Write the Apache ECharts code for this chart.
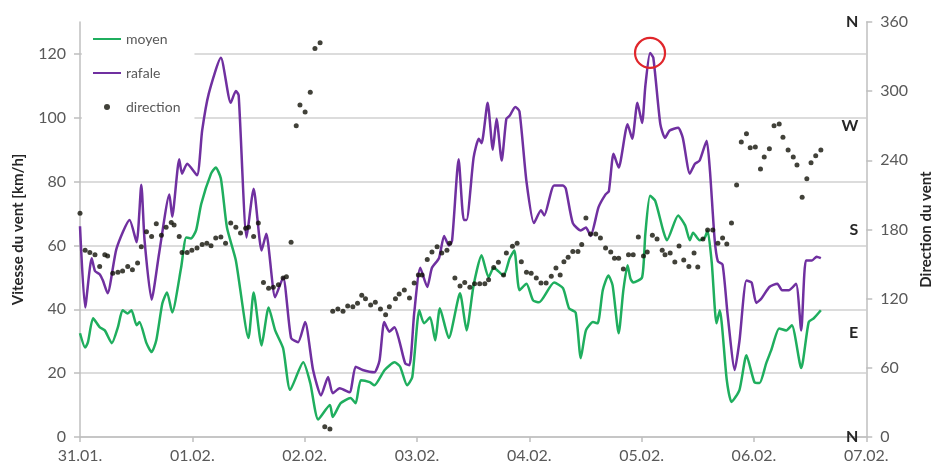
<!DOCTYPE html>
<html>
<head>
<meta charset="utf-8">
<script src="https://cdn.jsdelivr.net/npm/echarts@6/dist/echarts.min.js"></script>
<style>
  html, body { margin: 0; padding: 0; background: #ffffff; }
  #chart { width: 942px; height: 471px; }
</style>
</head>
<body>
<div id="chart"></div>
<script>
// Day labels on the time axis (hours from 31.01. 00:00, one label every 24 h)
const dayLabels = ['31.01.', '01.02.', '02.02.', '03.02.', '04.02.', '05.02.', '06.02.', '07.02.'];
// Speed axis ticks [km/h]
const speedTicks = [0, 20, 40, 60, 80, 100, 120];
// Compass points on the direction axis [deg]
const compassPoints = { 0: 'N', 90: 'E', 180: 'S', 270: 'W', 360: 'N' };

// Mean wind speed [hour, km/h]
const moyen = [
  [0, 32.5], [1.1, 28], [1.7, 29.7], [2.8, 37.2], [4.2, 34.4], [5.3, 33.4], [6.8, 29.4], [8.1, 34.4],
  [9.1, 39.7], [10.2, 38.7], [11, 39.7], [12.1, 35], [12.7, 36], [14.2, 29.4], [15.3, 26.6], [16.3, 30.3],
  [17.6, 41.9], [18.6, 45.3], [19.7, 39], [21.6, 53], [22.7, 62.5], [23.7, 62.2], [24.8, 64.7], [25.9, 73],
  [28, 82.5], [29, 84.4], [30.1, 81], [31.4, 65.6], [33.3, 55.3], [36, 31], [37.1, 45.3], [38.8, 28.7],
  [40.3, 40.6], [41.7, 33.4], [43.4, 27.8], [44.9, 14.7], [47.7, 23.4], [49.2, 16.9], [50.9, 5.5], [53.4, 10],
  [54, 6.3], [55.7, 10.6], [57.8, 12.2], [58.9, 10.6], [60, 17.8], [61.9, 17.2], [62.9, 16.2], [65.1, 21],
  [67.2, 23.4], [68.4, 22], [69.9, 16.2], [71, 18.8], [72.5, 39.7], [73.5, 35.6], [74.8, 37.5], [75.9, 30.3],
  [76.9, 40.3], [78.8, 31], [81.2, 45], [82.6, 33.4], [84.1, 47.5], [85.8, 56.9], [87.3, 50], [88.4, 53],
  [90.5, 50.6], [91.8, 55.9], [92.8, 58.4], [93.9, 46], [95.4, 48], [96.8, 42.8], [98.1, 42.2], [101.3, 48.4],
  [103.2, 46.6], [104.5, 40.3], [105.9, 39], [107, 24.7], [108.1, 33.4], [109.6, 36], [110.6, 35.6], [111.7, 46],
  [112.9, 50.6], [113.8, 47.5], [115.1, 32.5], [116.1, 46], [117, 53.8], [117.6, 49.7], [118.2, 48.4], [120.1, 50],
  [120.8, 63.7], [121.8, 75.6], [122.9, 74], [124.6, 64.7], [125.4, 61.6], [127.8, 69.4], [129.3, 66.3], [130.3, 61.6],
  [131, 64], [132.4, 61.6], [133.5, 62.5], [134.1, 64.7], [135, 54.4], [136, 35.6], [136.7, 39.7], [138.2, 17.8],
  [139.2, 11], [140.9, 14.7], [142.4, 25.6], [144.1, 17.2], [145.2, 16.9], [146.6, 23], [147.7, 27.2], [149.4, 34],
  [150.9, 33.4], [152.1, 35], [154.1, 21.6], [155.7, 36], [156.8, 37.2], [158.3, 39.7]
];

// Gust speed [hour, km/h]
const rafale = [
  [0, 66], [1.1, 40.6], [2.5, 56], [3.2, 52], [4.2, 51], [4.9, 49], [5.9, 45], [7.8, 59],
  [10.6, 68], [12.1, 61], [13.1, 79], [13.8, 61.5], [15.3, 43], [16.9, 57.5], [19.1, 76], [19.7, 69],
  [21.2, 87], [21.8, 82.5], [22.9, 85.6], [25, 82], [26.1, 96], [27.5, 107.5], [30.1, 118.8], [32.2, 104.7],
  [33.3, 108.4], [33.9, 107], [35.6, 62.5], [37.1, 77.8], [38.8, 58.4], [39.8, 63.7], [41.7, 43.8], [43.4, 50],
  [45.1, 31], [46.6, 29.7], [48.1, 36], [49.8, 21], [51.5, 13], [53, 18.8], [54, 13.7], [55.5, 15.3],
  [57.6, 14], [58.9, 22], [60.4, 21], [62.9, 20.3], [64, 24], [65, 36], [66.1, 33], [67.2, 34.4],
  [68.2, 30.3], [69.5, 23], [70.4, 22.5], [71.4, 38.7], [72.7, 53], [74.2, 47], [75.2, 53], [76.7, 56],
  [77.8, 63], [78.8, 60], [79.5, 61.5], [80.9, 87], [82, 68], [82.6, 68], [84.1, 87.5], [85.2, 93.4],
  [85.8, 92], [87.1, 104.7], [88.2, 90], [89, 99.7], [90.1, 86.6], [91.1, 99.7], [91.8, 100.6], [93, 103.4],
  [93.9, 102], [95.4, 80], [97, 67], [98.5, 71], [99.2, 69.4], [101.3, 78.8], [103.2, 78.8], [103.8, 77.8],
  [105.3, 67], [107, 64.7], [108.1, 65.6], [109.1, 63], [110.8, 72], [112.3, 76], [113, 77], [114, 88.7],
  [115.1, 84.4], [117, 98], [118, 93.4], [119.1, 104.7], [120.1, 98.4], [120.8, 110], [121.8, 120.3], [122.5, 118.8],
  [124, 98], [125, 93.7], [126, 96], [127.8, 96.9], [128.8, 93.7], [130.3, 82.5], [131.4, 85.6], [132.4, 86.6],
  [133.9, 92.8], [134.6, 83.4], [135.6, 62], [136.3, 55], [137.3, 54], [138.4, 38], [139.9, 21], [140.9, 30],
  [142.4, 49], [143.5, 48.4], [144.5, 42], [145.6, 43.4], [147.3, 47], [149, 48], [150, 46], [151.5, 46],
  [153, 48], [154.1, 33.4], [155.1, 55.3], [156.4, 55.3], [157.4, 56.5], [158.3, 56]
];

// Wind direction [hour, deg]
const direction = [
  [0, 194], [1.1, 162], [2.1, 160], [3.2, 158], [4.2, 148], [5.3, 158], [5.9, 157], [7, 142],
  [8.1, 143], [9.1, 144], [10.2, 148], [11.2, 145], [12.3, 151], [13.1, 165], [14.2, 178], [15.3, 174],
  [16.3, 185], [17.4, 175], [18.4, 182], [19.5, 186], [20.1, 184], [21.2, 174], [21.8, 160], [22.9, 160],
  [23.9, 162], [25, 164], [26.1, 167], [27.1, 168], [28, 166], [29, 172.6], [30.1, 173.5], [31.1, 168],
  [32.2, 185.6], [33.3, 182], [34.3, 177], [35.4, 181], [36, 182], [37.1, 174], [38.1, 185.6], [39.2, 134],
  [40.3, 129], [41.3, 130], [42.4, 132], [43.4, 138], [44.1, 139], [45.1, 169], [46.2, 270], [47, 288],
  [48.1, 282], [49.2, 299], [50.2, 337], [51.3, 342], [52.3, 9], [53.4, 7], [54, 109], [55.1, 111],
  [56.2, 109], [57.2, 113.6], [58.3, 113], [59.3, 116], [60.2, 123], [61, 120], [62.1, 114.5], [63.1, 117],
  [64.2, 111], [65.3, 106], [66.1, 113], [67.4, 120], [68.2, 124], [69.3, 127.5], [70.4, 120.6], [71.4, 133.6],
  [72.3, 140.5], [73.1, 140.5], [74.2, 154], [75.2, 160.5], [76.3, 165], [77.3, 159.6], [78.4, 162], [79, 168],
  [80.1, 138], [81.2, 131], [82.2, 134], [83.3, 130], [84.3, 133], [85.4, 133], [86.5, 133], [87.3, 136.5],
  [88.4, 147], [89.4, 151.5], [90.5, 140.5], [91.1, 159.6], [92.4, 165.5], [93.4, 168], [94.3, 152], [95.4, 143],
  [96.4, 142], [97.5, 138], [98.5, 133.6], [99.6, 133.6], [100.7, 139.5], [101.7, 146.6], [102.6, 140.5], [103.4, 152],
  [104.3, 156], [105.3, 161], [106.4, 161], [107.2, 167], [108.1, 190], [109.1, 176], [110.2, 176], [111.2, 172.6],
  [112.3, 164], [113.4, 160.5], [114.2, 155], [115.1, 155], [116.1, 145.7], [117.2, 158], [118.2, 158], [119.3, 173.5],
  [120.4, 157], [121.2, 160.5], [122.3, 175], [123.3, 171.8], [124.4, 162], [125, 158], [126.1, 159.6], [127.1, 151.8],
  [128, 165.7], [129, 153.5], [130.1, 148], [131.2, 159.6], [132, 147.5], [133.1, 171.8], [134.1, 179.6], [135.2, 179.6],
  [136.3, 168], [137.3, 172.6], [138.2, 167.4], [139.2, 185.6], [140.3, 218.6], [141.3, 256], [142.4, 263], [143.2, 251],
  [144.3, 251.6], [145.4, 232.5], [146.2, 243], [147.3, 250], [148.3, 270], [149.4, 271.5], [150.2, 260], [151.3, 249],
  [152.4, 243], [153.2, 236], [154.3, 208], [155.3, 224], [156.2, 238], [157.2, 244], [158.3, 249]
];

// Highest gust, circled on the chart
const gustPeak = [121.8, 120.3];

const FONT = 'Lato, "Open Sans", sans-serif';
const AXIS_GREY = '#bfbfbf';
const LABEL_GREY = '#595959';
const GRID_GREY = '#d0d0d0';
const GREEN = '#1fae5e';
const PURPLE = '#7030a0';

const chart = echarts.init(document.getElementById('chart'), null, { renderer: 'canvas' });

chart.setOption({
  animation: false,
  backgroundColor: '#ffffff',
  textStyle: { fontFamily: FONT },
  grid: { left: 80, right: 69, top: 22, bottom: 34, containLabel: false },
  legend: {
    orient: 'vertical',
    left: 82,
    top: 24,
    itemWidth: 28,
    itemHeight: 6,
    itemGap: 20,
    padding: [8, 14, 14, 10],
    backgroundColor: '#ffffff',
    textStyle: { color: LABEL_GREY, fontSize: 14, fontFamily: FONT },
    data: [
      // plain line keys, no marker in the middle
      { name: 'moyen', itemStyle: { opacity: 0 } },
      { name: 'rafale', itemStyle: { opacity: 0 } },
      { name: 'direction', icon: 'circle' }
    ]
  },
  xAxis: {
    type: 'value',
    min: 0,
    max: 168,
    interval: 24,
    axisLine: { show: true, lineStyle: { color: AXIS_GREY, width: 1.5 } },
    axisTick: { show: true, length: 5, lineStyle: { color: AXIS_GREY, width: 1.5 } },
    axisLabel: {
      formatter: v => dayLabels[Math.round(v / 24)],
      color: LABEL_GREY, fontSize: 16, fontFamily: FONT, margin: 11
    },
    splitLine: { show: false }
  },
  yAxis: [
    {
      type: 'value',
      position: 'left',
      min: 0,
      max: 130,
      interval: 20,
      name: 'Vitesse du vent [km/h]',
      nameLocation: 'middle',
      nameGap: 54,
      nameRotate: 90,
      nameTextStyle: { color: '#262626', fontWeight: 'bold', fontSize: 15, fontFamily: FONT },
      axisLine: { show: true, lineStyle: { color: AXIS_GREY, width: 1.5 } },
      axisTick: { show: true, length: 6, customValues: speedTicks, lineStyle: { color: AXIS_GREY, width: 1.5 } },
      axisLabel: { customValues: speedTicks, color: LABEL_GREY, fontSize: 16, fontFamily: FONT, margin: 14 },
      splitLine: {
        show: true,
        lineStyle: {
          color: [GRID_GREY, GRID_GREY, GRID_GREY, GRID_GREY, GRID_GREY, GRID_GREY, GRID_GREY, 'rgba(0,0,0,0)'],
          width: 1.5
        }
      }
    },
    {
      type: 'value',
      position: 'right',
      min: 0,
      max: 360,
      interval: 60,
      name: 'Direction du vent',
      nameLocation: 'middle',
      nameGap: 52,
      nameRotate: 90,
      nameTextStyle: { color: '#262626', fontWeight: 'bold', fontSize: 15, fontFamily: FONT },
      axisLine: { show: true, lineStyle: { color: AXIS_GREY, width: 1.5 } },
      axisTick: { show: true, length: 6, lineStyle: { color: AXIS_GREY, width: 1.5 } },
      axisLabel: { color: LABEL_GREY, fontSize: 16, fontFamily: FONT, margin: 14 },
      splitLine: { show: false }
    },
    {
      // compass letters drawn just inside the direction axis
      type: 'value',
      position: 'right',
      min: 0,
      max: 360,
      interval: 90,
      axisLine: { show: false },
      axisTick: { show: false },
      splitLine: { show: false },
      axisLabel: {
        inside: true,
        margin: 8,
        formatter: v => compassPoints[v] || '',
        color: '#262626', fontWeight: 'bold', fontSize: 16, fontFamily: FONT
      }
    }
  ],
  series: [
    {
      name: 'moyen',
      type: 'line',
      yAxisIndex: 0,
      data: moyen,
      symbol: 'none',
      smooth: 0.2,
      lineStyle: { color: GREEN, width: 2.5 },
      itemStyle: { color: GREEN },
      z: 3
    },
    {
      name: 'rafale',
      type: 'line',
      yAxisIndex: 0,
      data: rafale,
      symbol: 'none',
      smooth: 0.2,
      lineStyle: { color: PURPLE, width: 2.5 },
      itemStyle: { color: PURPLE },
      z: 3,
      markPoint: {
        silent: true,
        symbol: 'circle',
        symbolSize: 30,
        label: { show: false },
        itemStyle: { color: 'rgba(0,0,0,0)', borderColor: '#e0262b', borderWidth: 2.2 },
        data: [{ coord: gustPeak }]
      }
    },
    {
      name: 'direction',
      type: 'scatter',
      yAxisIndex: 1,
      data: direction,
      symbol: 'circle',
      symbolSize: 5,
      itemStyle: { color: '#111108' },
      z: 4
    }
  ]
});
</script>
</body>
</html>
